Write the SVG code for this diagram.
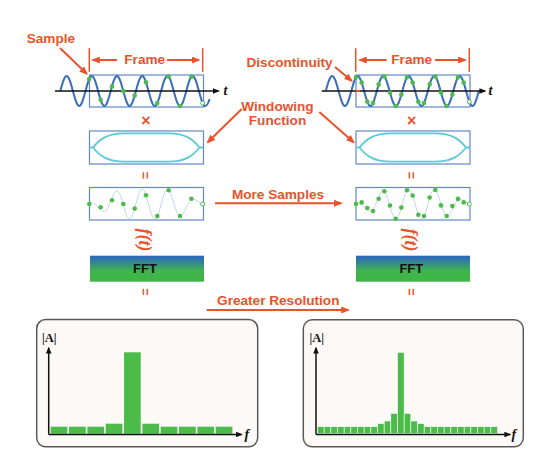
<svg xmlns="http://www.w3.org/2000/svg" width="540" height="462" viewBox="0 0 540 462">
<style>
.lbl{font-family:"Liberation Sans",Arial,sans-serif;font-weight:bold;font-size:13.6px;fill:#e8532b}
.op{font-family:"Liberation Sans",Arial,sans-serif;font-weight:bold;fill:#e8532b}
.ft{font-family:"Liberation Serif","Times New Roman",serif;font-style:italic;font-weight:bold;font-size:18px;fill:#e8532b}
.ax{font-family:"Liberation Serif","Times New Roman",serif;font-weight:bold;font-size:12.5px;fill:#111}
.axi{font-family:"Liberation Serif","Times New Roman",serif;font-style:italic;font-weight:bold;font-size:14px;fill:#111}
.fftt{font-family:"Liberation Sans",Arial,sans-serif;font-weight:bold;font-size:13px;fill:#111}
.box{fill:none;stroke:#6287cc;stroke-width:1.2}
.wave{fill:none;stroke:#3d6fba;stroke-width:2}
.faint{fill:none;stroke:#c3d5ec;stroke-width:1}
.env{fill:none;stroke:#5ccbd6;stroke-width:1.8}
.axis{fill:none;stroke:#111;stroke-width:1.5}
.dot{fill:#4cbb4a}
.odot{fill:#fff;stroke:#4cbb4a;stroke-width:1}
.bar{fill:#4cbb4a}
.tbar{fill:#4cbb4a;stroke:#fff;stroke-width:0.6}
.panel{fill:#fcf9f6;stroke:#5a5a5a;stroke-width:1.5}
.arr{fill:none;stroke:#e8532b;stroke-width:2;marker-end:url(#ah)}
.tick{fill:none;stroke:#e8532b;stroke-width:1.5}
</style>
<defs>
<marker id="ah" viewBox="0 0 10 8" refX="8" refY="4" markerWidth="9" markerHeight="7" orient="auto" markerUnits="userSpaceOnUse"><path d="M0,0 L10,4 L0,8 Z" fill="#e8532b"/></marker>
<marker id="bh" viewBox="0 0 10 8" refX="8" refY="4" markerWidth="7" markerHeight="5.6" orient="auto" markerUnits="userSpaceOnUse"><path d="M0,0 L10,4 L0,8 Z" fill="#111"/></marker>
<linearGradient id="fftg" x1="0" y1="0" x2="0" y2="1">
<stop offset="0" stop-color="#2c63c4"/>
<stop offset="0.6" stop-color="#40b64a"/>
<stop offset="1" stop-color="#3fb447"/>
</linearGradient>
<path id="envelope" d="M89.5,147.5 L93,147.5 C99,140 106,133.3 125,133.3 L168,133.3 C186.5,133.3 193.5,140 199.5,147.5 L203.5,147.5 M93,147.5 C99,155 106,161.7 125,161.7 L168,161.7 C186.5,161.7 193.5,155 199.5,147.5"/>
</defs>
<rect width="540" height="462" fill="#fff"/>

<g id="frame-left">
<rect class="box" x="89.5" y="75" width="114" height="32"/>
<path class="wave" d="M60.3,91 C62.36,83.31 64.32,76 66.6,76 C71.18,76 74.62,106 79.2,106 S87.22,76 91.8,76 S99.82,106 104.4,106 S112.42,76 117,76 S125.02,106 129.6,106 S137.62,76 142.2,76 S150.22,106 154.8,106 S162.82,76 167.4,76 S175.42,106 180,106 S188.02,76 192.6,76 S200.62,106 205.2,106 C207.48,106 208.6,102 209.6,99"/>
<path class="axis" d="M55,91 H218.5" marker-end="url(#bh)"/>
<text class="axi" x="223.5" y="95" font-size="13">t</text>
<circle class="dot" cx="89.3" cy="78.9" r="2.3"/><circle class="dot" cx="100.6" cy="99.8" r="2.3"/><circle class="dot" cx="112" cy="86.4" r="2.3"/><circle class="dot" cx="123.3" cy="91" r="2.3"/><circle class="dot" cx="134.7" cy="95.6" r="2.3"/><circle class="dot" cx="146" cy="82.2" r="2.3"/><circle class="dot" cx="157.3" cy="103.1" r="2.3"/><circle class="dot" cx="168.7" cy="76.7" r="2.3"/><circle class="dot" cx="180" cy="106" r="2.3"/><circle class="dot" cx="191.4" cy="76.7" r="2.3"/><circle class="odot" cx="202.7" cy="103.1" r="2"/>
</g>

<g id="frame-right">
<rect class="box" x="356" y="75" width="114" height="32"/>
<path class="wave" d="M325.8,91 C327.88,83.31 329.87,76 332.2,76 C336.83,76 340.32,106 344.95,106 S353.07,76 357.7,76 S365.82,106 370.45,106 S378.57,76 383.2,76 S391.32,106 395.95,106 S404.07,76 408.7,76 S416.82,106 421.45,106 S429.57,76 434.2,76 S442.32,106 446.95,106 S455.07,76 459.7,76 S467.82,106 472.45,106 C474.76,106 476.75,98.69 478.8,91"/>
<path class="axis" d="M321.7,91 H485" marker-end="url(#bh)"/>
<text class="axi" x="488.5" y="95" font-size="13">t</text>
<path d="M355.7,91 H360" stroke="#e8532b" stroke-width="2"/>
<circle class="dot" cx="356" cy="77.3" r="2.3"/><circle class="dot" cx="361.67" cy="82.6" r="2.3"/><circle class="dot" cx="367.33" cy="101.8" r="2.3"/><circle class="dot" cx="373" cy="103.1" r="2.3"/><circle class="dot" cx="378.67" cy="84.4" r="2.3"/><circle class="dot" cx="384.33" cy="76.6" r="2.3"/><circle class="dot" cx="390" cy="92.6" r="2.3"/><circle class="dot" cx="395.67" cy="106" r="2.3"/><circle class="dot" cx="401.33" cy="94.6" r="2.3"/><circle class="dot" cx="407" cy="77.3" r="2.3"/><circle class="dot" cx="412.67" cy="82.6" r="2.3"/><circle class="dot" cx="418.33" cy="101.8" r="2.3"/><circle class="dot" cx="424" cy="103.1" r="2.3"/><circle class="dot" cx="429.67" cy="84.4" r="2.3"/><circle class="dot" cx="435.33" cy="76.6" r="2.3"/><circle class="dot" cx="441" cy="92.6" r="2.3"/><circle class="dot" cx="446.67" cy="106" r="2.3"/><circle class="dot" cx="452.33" cy="94.6" r="2.3"/><circle class="dot" cx="458" cy="77.3" r="2.3"/><circle class="dot" cx="463.67" cy="82.6" r="2.3"/><circle class="odot" cx="469.33" cy="101.8" r="2"/>
</g>

<g id="window-left">
<rect class="box" x="89.5" y="131" width="114" height="33"/>
<use href="#envelope" class="env"/>
</g>
<g id="window-right">
<rect class="box" x="356" y="131" width="114" height="33"/>
<use href="#envelope" class="env" transform="translate(266.5,0)"/>
</g>

<g id="windowed-left">
<rect class="box" x="89.5" y="187.5" width="114" height="32.5"/>
<path class="faint" d="M89.3,204 L91.8,203 C96.38,203 99.82,211.7 104.4,211.7 S112.42,190.9 117,190.9 S125.02,218.8 129.6,218.8 S137.62,189 142.2,189 S150.22,219 154.8,219 S162.82,189.4 167.4,189.4 S175.42,216 180,216 S188.02,199 192.6,199 C196,199 200,203.5 202.7,204"/>
<circle class="dot" cx="89.3" cy="204" r="2.3"/><circle class="dot" cx="100.6" cy="207.3" r="2.3"/><circle class="dot" cx="112" cy="200.3" r="2.3"/><circle class="dot" cx="123.3" cy="204" r="2.3"/><circle class="dot" cx="134.7" cy="208.6" r="2.3"/><circle class="dot" cx="146" cy="195.2" r="2.3"/><circle class="dot" cx="157.3" cy="216.1" r="2.3"/><circle class="dot" cx="168.7" cy="190.2" r="2.3"/><circle class="dot" cx="180" cy="216" r="2.3"/><circle class="dot" cx="191.4" cy="198.7" r="2.3"/><circle class="odot" cx="202.7" cy="204" r="2"/>
</g>

<g id="windowed-right">
<rect class="box" x="356" y="187.5" width="114" height="32.5"/>
<path class="faint" d="M356,204 L357.7,203.2 C362.33,203.2 365.82,211.3 370.45,211.3 S378.57,191 383.2,191 S391.32,218.8 395.95,218.8 S404.07,189 408.7,189 S416.82,219 421.45,219 S429.57,189.4 434.2,189.4 S442.32,215.9 446.95,215.9 S455.07,199.3 459.7,199.3 C463,199.3 467,203.5 469.33,204"/>
<circle class="dot" cx="356" cy="204" r="2.3"/><circle class="dot" cx="361.67" cy="202.4" r="2.3"/><circle class="dot" cx="367.33" cy="208" r="2.3"/><circle class="dot" cx="373" cy="211.1" r="2.3"/><circle class="dot" cx="378.67" cy="198.7" r="2.3"/><circle class="dot" cx="384.33" cy="191.2" r="2.3"/><circle class="dot" cx="390" cy="205.5" r="2.3"/><circle class="dot" cx="395.67" cy="218.7" r="2.3"/><circle class="dot" cx="401.33" cy="207.6" r="2.3"/><circle class="dot" cx="407" cy="190.3" r="2.3"/><circle class="dot" cx="412.67" cy="195.6" r="2.3"/><circle class="dot" cx="418.33" cy="214.8" r="2.3"/><circle class="dot" cx="424" cy="216.1" r="2.3"/><circle class="dot" cx="429.67" cy="197.5" r="2.3"/><circle class="dot" cx="435.33" cy="190" r="2.3"/><circle class="dot" cx="441" cy="205.4" r="2.3"/><circle class="dot" cx="446.67" cy="216" r="2.3"/><circle class="dot" cx="452.33" cy="206.1" r="2.3"/><circle class="dot" cx="458" cy="198.9" r="2.3"/><circle class="dot" cx="463.67" cy="202.4" r="2.3"/><circle class="odot" cx="469.33" cy="204" r="2"/>
</g>

<g id="fft-left">
<rect x="90" y="255.7" width="114" height="26" fill="url(#fftg)"/>
<text class="fftt" x="145" y="272.5" text-anchor="middle">FFT</text>
</g>
<g id="fft-right">
<rect x="356" y="255.7" width="114" height="26" fill="url(#fftg)"/>
<text class="fftt" x="411.3" y="272.5" text-anchor="middle">FFT</text>
</g>

<g id="operators">
<text class="op" x="146" y="126" font-size="16" text-anchor="middle">×</text>
<text class="op" x="411.7" y="126" font-size="16" text-anchor="middle">×</text>
<text class="op" font-size="12.5" text-anchor="middle" dominant-baseline="central" transform="translate(145,175.5) rotate(90)">=</text>
<text class="op" font-size="12.5" text-anchor="middle" dominant-baseline="central" transform="translate(410.7,175.5) rotate(90)">=</text>
<text class="op" font-size="12.5" text-anchor="middle" dominant-baseline="central" transform="translate(145,292) rotate(90)">=</text>
<text class="op" font-size="12.5" text-anchor="middle" dominant-baseline="central" transform="translate(410.7,292) rotate(90)">=</text>
<text class="ft" text-anchor="middle" dominant-baseline="central" transform="translate(145,240) rotate(90)">f(t)</text>
<text class="ft" text-anchor="middle" dominant-baseline="central" transform="translate(410.7,240) rotate(90)">f(t)</text>
</g>

<g id="spectrum-left">
<rect class="panel" x="36.7" y="319.5" width="221" height="127.3" rx="9"/>
<rect class="bar" x="50.7" y="426.7" width="16.7" height="7"/>
<rect class="bar" x="69.03" y="426.7" width="16.7" height="7"/>
<rect class="bar" x="87.37" y="426.7" width="16.7" height="7"/>
<rect class="bar" x="105.7" y="423.7" width="16.7" height="10"/>
<rect class="bar" x="124.03" y="352.3" width="16.7" height="81.4"/>
<rect class="bar" x="142.37" y="423.7" width="16.7" height="10"/>
<rect class="bar" x="160.7" y="426.7" width="16.7" height="7"/>
<rect class="bar" x="179.03" y="426.7" width="16.7" height="7"/>
<rect class="bar" x="197.37" y="426.7" width="16.7" height="7"/>
<rect class="bar" x="215.7" y="426.7" width="16.7" height="7"/>
<path class="axis" d="M48.7,434.5 V348" marker-end="url(#bh)"/>
<path class="axis" d="M48.7,434.5 H241.5" marker-end="url(#bh)"/>
<text class="ax" x="42" y="341.5">|A|</text>
<text class="axi" x="244.5" y="438.5">f</text>
</g>

<g id="spectrum-right">
<rect class="panel" x="303.3" y="319.8" width="220" height="127" rx="9"/>
<rect class="tbar" x="317.5" y="426.7" width="6.67" height="7"/>
<rect class="tbar" x="324.17" y="426.7" width="6.67" height="7"/>
<rect class="tbar" x="330.83" y="426.7" width="6.67" height="7"/>
<rect class="tbar" x="337.5" y="426.7" width="6.67" height="7"/>
<rect class="tbar" x="344.17" y="426.7" width="6.67" height="7"/>
<rect class="tbar" x="350.83" y="426.7" width="6.67" height="7"/>
<rect class="tbar" x="357.5" y="426.7" width="6.67" height="7"/>
<rect class="tbar" x="364.17" y="426.7" width="6.67" height="7"/>
<rect class="tbar" x="370.83" y="426.7" width="6.67" height="7"/>
<rect class="tbar" x="377.5" y="423.5" width="6.67" height="10.2"/>
<rect class="tbar" x="384.17" y="421" width="6.67" height="12.7"/>
<rect class="tbar" x="390.83" y="413.3" width="6.67" height="20.4"/>
<rect class="tbar" x="397.5" y="352.3" width="6.67" height="81.4"/>
<rect class="tbar" x="404.17" y="413.3" width="6.67" height="20.4"/>
<rect class="tbar" x="410.83" y="421" width="6.67" height="12.7"/>
<rect class="tbar" x="417.5" y="423.5" width="6.67" height="10.2"/>
<rect class="tbar" x="424.17" y="426.7" width="6.67" height="7"/>
<rect class="tbar" x="430.83" y="426.7" width="6.67" height="7"/>
<rect class="tbar" x="437.5" y="426.7" width="6.67" height="7"/>
<rect class="tbar" x="444.17" y="426.7" width="6.67" height="7"/>
<rect class="tbar" x="450.83" y="426.7" width="6.67" height="7"/>
<rect class="tbar" x="457.5" y="426.7" width="6.67" height="7"/>
<rect class="tbar" x="464.17" y="426.7" width="6.67" height="7"/>
<rect class="tbar" x="470.83" y="426.7" width="6.67" height="7"/>
<rect class="tbar" x="477.5" y="426.7" width="6.67" height="7"/>
<rect class="tbar" x="484.17" y="426.7" width="6.67" height="7"/>
<rect class="tbar" x="490.83" y="426.7" width="6.67" height="7"/>
<path class="axis" d="M316,434.5 V348" marker-end="url(#bh)"/>
<path class="axis" d="M316,434.5 H510" marker-end="url(#bh)"/>
<text class="ax" x="309.5" y="341.5">|A|</text>
<text class="axi" x="511.5" y="438.5">f</text>
</g>

<g id="labels">
<text class="lbl" x="26.7" y="42.5">Sample</text>
<text class="lbl" x="144.7" y="64.3" text-anchor="middle">Frame</text>
<text class="lbl" x="411.7" y="64.3" text-anchor="middle">Frame</text>
<text class="lbl" x="246.5" y="66.5">Discontinuity</text>
<text class="lbl" x="277.5" y="111" text-anchor="middle">Windowing</text>
<text class="lbl" x="277.5" y="124.5" text-anchor="middle">Function</text>
<text class="lbl" x="278" y="199" text-anchor="middle">More Samples</text>
<text class="lbl" x="278.3" y="305" text-anchor="middle">Greater Resolution</text>
</g>

<g id="connectors">
<path class="tick" d="M89.3,48.3 V71.7 M202.7,48.3 V71.7 M355.7,48.3 V71.7 M469.3,48.3 V71.7"/>
<path class="arr" d="M117,60 H92.8"/>
<path class="arr" d="M167,60 H198.7"/>
<path class="arr" d="M386.7,60 H359.8"/>
<path class="arr" d="M435,60 H465.2"/>
<path class="arr" d="M60,48 L86.7,73.75"/>
<path class="arr" d="M335,67 L351.6,80.8"/>
<path class="arr" d="M241.7,109 L207.8,142.2"/>
<path class="arr" d="M319.3,112 L353.65,142.3"/>
<path class="arr" d="M215,203.3 H341"/>
<path class="arr" d="M206.7,310 H348.2"/>
</g>
</svg>
